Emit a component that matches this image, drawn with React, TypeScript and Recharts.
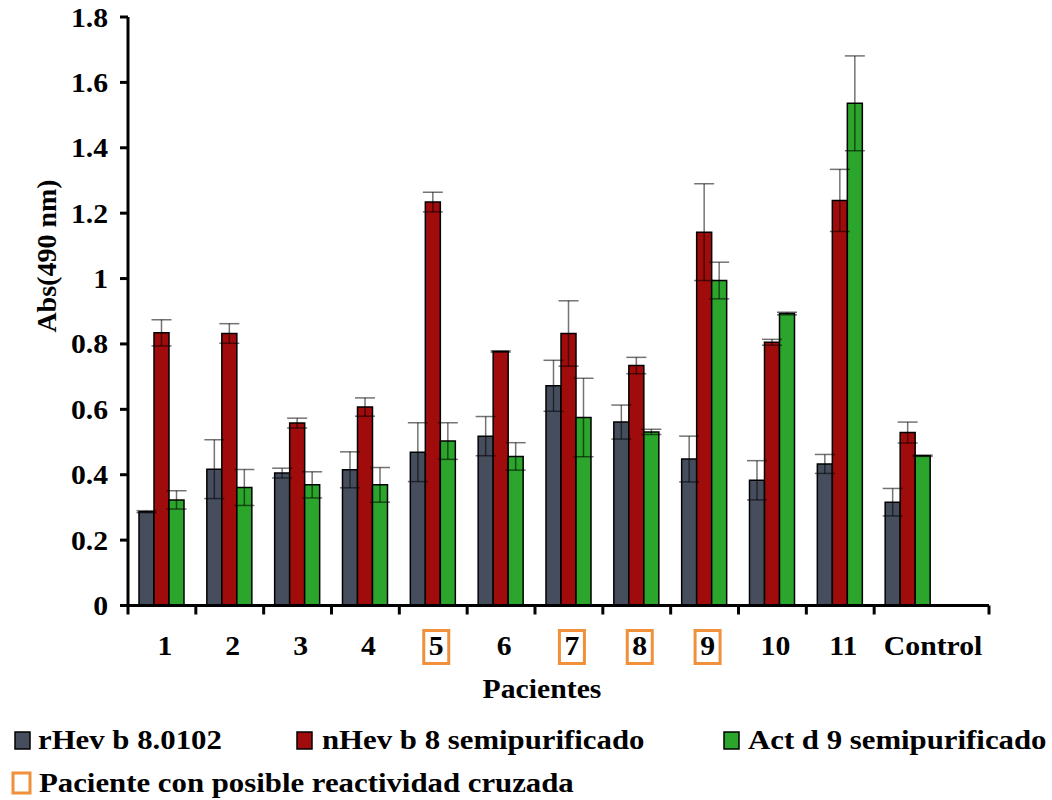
import React from 'react';
import { BarChart, Bar, XAxis, YAxis, ErrorBar } from 'recharts';

// ---- data ----
const categories = ['1', '2', '3', '4', '5', '6', '7', '8', '9', '10', '11', 'Control'];
const rHevValues = [0.287, 0.417, 0.405, 0.415, 0.469, 0.518, 0.672, 0.561, 0.448, 0.383, 0.433, 0.316];
const rHevErrors = [0.003, 0.09, 0.015, 0.055, 0.09, 0.06, 0.078, 0.052, 0.07, 0.06, 0.029, 0.042];
const nHevValues = [0.834, 0.832, 0.558, 0.607, 1.234, 0.777, 0.832, 0.734, 1.142, 0.805, 1.239, 0.529];
const nHevErrors = [0.04, 0.03, 0.015, 0.028, 0.03, 0.002, 0.1, 0.025, 0.148, 0.009, 0.095, 0.032];
const actdValues = [0.323, 0.361, 0.369, 0.369, 0.503, 0.456, 0.575, 0.531, 0.994, 0.893, 1.536, 0.458];
const actdErrors = [0.028, 0.055, 0.04, 0.053, 0.056, 0.042, 0.12, 0.008, 0.056, 0.004, 0.145, 0.002];
const crossReactive = ['5', '7', '8', '9'];
const yTicks = [0, 0.2, 0.4, 0.6, 0.8, 1, 1.2, 1.4, 1.6, 1.8];
const yTickLabels = ['0', '0.2', '0.4', '0.6', '0.8', '1', '1.2', '1.4', '1.6', '1.8'];
const seriesNames = ['rHev b 8.0102', 'nHev b 8 semipurificado', 'Act d 9 semipurificado'];
const crossLegendLabel = 'Paciente con posible reactividad cruzada';
const xTitle = 'Pacientes';
const yTitle = 'Abs(490 nm)';

const COLORS = ['#464E5E', '#A00C0C', '#2CA52C'];
const ORANGE = '#F0903A';

const data = categories.map((c, i) => ({
  name: c,
  rHev: rHevValues[i],
  rHevErr: rHevErrors[i],
  nHev: nHevValues[i],
  nHevErr: nHevErrors[i],
  actd: actdValues[i],
  actdErr: actdErrors[i],
}));

const series = [
  { key: 'rHev', err: 'rHevErr', name: seriesNames[0], color: COLORS[0] },
  { key: 'nHev', err: 'nHevErr', name: seriesNames[1], color: COLORS[1] },
  { key: 'actd', err: 'actdErr', name: seriesNames[2], color: COLORS[2] },
];

// ---- layout ----
const W = 1052;
const H = 800;
const PLOT_LEFT = 128;
const PLOT_TOP = 17;
const AXIS_Y = 605.5;
const BAND_RIGHT = 942;
const AXIS_END = 989;
const PAD_R = AXIS_END - BAND_RIGHT;
const BAND = (BAND_RIGHT - PLOT_LEFT) / categories.length;
const X_AXIS_H = 100;
const FONT = '"Liberation Serif", "Times New Roman", serif';
const STRETCH = 1.1;

const XTick = (props: any) => {
  const { x, y, payload, index } = props;
  const label = String(payload.value);
  const isLast = index === categories.length - 1;
  const dx = isLast ? 25 : 3;
  const left = x - BAND / 2;
  return (
    <g>
      <line x1={left} x2={left} y1={y} y2={y + 9} stroke="#000" strokeWidth={3} />
      {isLast && (
        <line x1={x + BAND / 2 + PAD_R} x2={x + BAND / 2 + PAD_R} y1={y} y2={y + 9} stroke="#000" strokeWidth={3} />
      )}
      {crossReactive.includes(label) && (
        <rect x={x + dx - 12.5} y={y + 25} width={25} height={33} fill="none" stroke={ORANGE} strokeWidth={3} />
      )}
      <text
        transform={`translate(${x + dx},${y + 49.5}) scale(${STRETCH},1)`}
        textAnchor="middle"
        fontFamily={FONT}
        fontWeight="bold"
        fontSize={27}
        fill="#000"
      >
        {label}
      </text>
    </g>
  );
};

const YTick = (props: any) => {
  const { x, y, payload } = props;
  const idx = yTicks.indexOf(payload.value);
  const label = idx >= 0 ? yTickLabels[idx] : String(payload.value);
  return (
    <text
      transform={`translate(${x},${y + 9.5}) scale(${STRETCH},1)`}
      textAnchor="end"
      fontFamily={FONT}
      fontWeight="bold"
      fontSize={27}
      fill="#000"
    >
      {label}
    </text>
  );
};

export default function App() {
  return (
    <div style={{ position: 'absolute', left: 0, top: 0, width: W, height: H, background: '#fff' }}>
      <BarChart
        width={W}
        height={H}
        data={data}
        margin={{ top: PLOT_TOP, right: W - AXIS_END, left: 0, bottom: H - AXIS_Y - X_AXIS_H }}
        barGap={0}
        barSize={15}
      >
        <XAxis
          dataKey="name"
          height={X_AXIS_H}
          padding={{ left: 0, right: PAD_R }}
          axisLine={{ stroke: '#000', strokeWidth: 3 }}
          tickLine={false}
          tickSize={0}
          tickMargin={0}
          interval={0}
          tick={<XTick />}
        />
        <YAxis
          width={PLOT_LEFT}
          domain={[0, 1.8]}
          ticks={yTicks}
          interval={0}
          axisLine={{ stroke: '#000', strokeWidth: 3 }}
          tickLine={{ stroke: '#000', strokeWidth: 3 }}
          tickSize={8}
          tickMargin={12}
          tick={<YTick />}
        />
        {series.map((s) => (
          <Bar
            key={s.key}
            dataKey={s.key}
            name={s.name}
            fill={s.color}
            stroke="#000"
            strokeWidth={1.5}
            isAnimationActive={false}
          >
            <ErrorBar dataKey={s.err} width={10} stroke="rgba(0,0,0,0.55)" strokeWidth={1.5} isAnimationActive={false} />
          </Bar>
        ))}
      </BarChart>

      {/* axis titles */}
      <div
        style={{
          position: 'absolute',
          left: 47,
          top: 256,
          transform: 'translate(-50%,-50%) rotate(-90deg)',
          whiteSpace: 'nowrap',
          fontFamily: FONT,
          fontWeight: 'bold',
          fontSize: 28,
          lineHeight: 1,
        }}
      >
        {yTitle}
      </div>
      <div
        style={{
          position: 'absolute',
          left: 542,
          top: 689,
          transform: `translate(-50%,-50%) scaleX(${STRETCH})`,
          whiteSpace: 'nowrap',
          fontFamily: FONT,
          fontWeight: 'bold',
          fontSize: 27,
          lineHeight: 1,
        }}
      >
        {xTitle}
      </div>

      {/* legend */}
      <svg width={W} height={100} style={{ position: 'absolute', left: 0, top: 700 }}>
        {series.map((s, i) => {
          const sx = [15, 297, 724][i];
          const tx = [38, 322, 748][i];
          return (
            <g key={s.key}>
              <rect x={sx} y={32} width={15} height={17} fill={s.color} stroke="#000" strokeWidth={1.5} />
              <text
                transform={`translate(${tx},49) scale(${STRETCH},1)`}
                fontFamily={FONT}
                fontWeight="bold"
                fontSize={28}
                fill="#000"
              >
                {s.name}
              </text>
            </g>
          );
        })}
        <rect x={13} y={73} width={17} height={20} fill="none" stroke={ORANGE} strokeWidth={3} />
        <text
          transform={`translate(39,92) scale(${STRETCH},1)`}
          fontFamily={FONT}
          fontWeight="bold"
          fontSize={28}
          fill="#000"
        >
          {crossLegendLabel}
        </text>
      </svg>
    </div>
  );
}
